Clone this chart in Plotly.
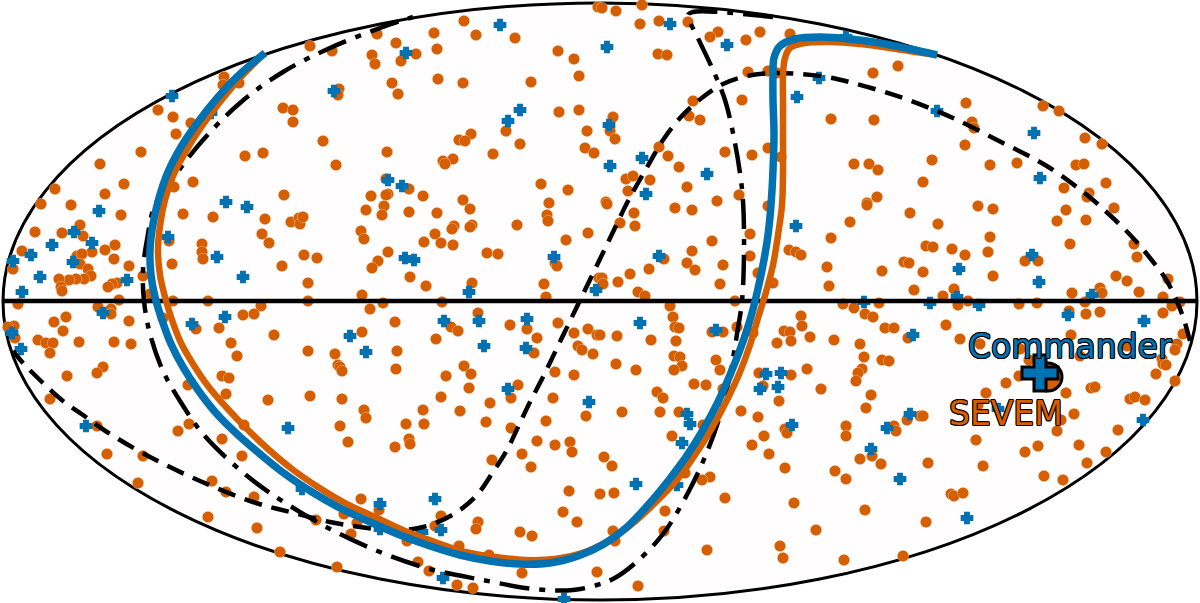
import plotly.graph_objects as go

# SEVEM sources, sky-map plane coordinates
sevem_x = [224,223,239,158,173,191,176,283,293,293,141,263,245,100,124,193,174,55,105,284,
 310,332,377,396,372,375,401,416,434,437,464,476,515,558,574,579,438,463,531,392,398,339,338,559,579,506,587,471,459,465,520,585,594,323,387,493,453,443,445,336,541,568,386,409,388,386,371,423,463,549,598,
 602,616,642,640,659,688,718,710,746,760,790,658,667,748,768,777,873,898,693,742,613,689,700,831,874,610,615,659,668,725,752,768,781,679,854,869,878,626,633,650,628,687,739,606,717,877,867,
 966,1043,1059,972,974,965,1085,1102,932,990,1017,1076,1084,923,1064,1106,1089,1087,
 41,71,121,183,213,265,291,299,300,80,35,62,83,262,269,115,169,202,202,105,92,22,203,77,82,114,80,129,172,282,13,88,91,84,76,69,59,61,62,117,112,108,143,150,119,173,208,18,261,98,111,111,254,243,66,163,54,129,14,8,196,219,63,15,274,38,46,53,79,114,131,231,50,237,103,97,222,229,67,188,226,268,50,
 303,366,384,382,409,437,470,547,548,517,454,452,472,470,361,364,435,588,566,424,441,453,388,487,498,304,317,378,372,555,557,410,308,426,472,544,599,362,546,308,383,442,370,478,395,558,510,527,451,458,362,574,588,597,537,436,578,582,593,308,335,397,534,338,340,342,396,464,471,446,555,574,518,469,310,342,441,511,553,490,
 607,675,692,768,867,634,850,620,635,750,831,712,692,789,796,801,750,664,687,723,649,695,827,882,630,758,602,603,618,720,773,829,638,645,735,670,843,854,879,865,873,801,673,737,802,675,679,712,723,885,894,784,790,600,617,753,651,676,810,791,834,777,860,674,680,864,716,882,889,616,682,636,674,720,807,862,858,759,791,856,694,706,763,821,657,663,871,779,723,
 910,978,993,1066,1114,1057,1086,938,990,1070,1134,926,933,952,988,965,1137,904,909,1025,1038,923,993,1116,1127,1168,914,954,1072,1100,1102,1139,943,1163,968,958,1019,1037,1085,1180,1172,1069,1086,1100,1163,946,1071,1183,908,960,1177,1175,1020,980,1127,1080,1029,1162,1163,1166,1019,1156,1006,1175,1091,1095,1066,986,1130,1135,1145,
 97,189,178,244,222,107,143,242,212,138,226,254,208,257,280,
 364,366,340,423,406,424,460,486,511,546,586,348,409,410,395,537,555,570,572,522,492,531,569,600,563,577,361,379,344,441,478,476,435,316,357,520,532,351,407,459,489,418,429,337,522,597,457,473,
 866,622,660,679,741,758,703,846,846,785,787,764,894,896,672,752,769,604,612,860,872,881,785,835,846,685,710,702,614,725,665,794,865,816,613,664,615,707,780,783,844,638,
 907,920,923,978,1061,1074,1057,1118,976,1079,1038,1025,1106,928,1087,983,1044,1063,951,954,963,926,903]
sevem_y = [77,85,83,110,117,123,134,108,110,122,152,153,156,164,184,182,187,189,194,195,
 46,51,34,43,55,64,61,54,33,49,21,35,38,51,59,76,79,83,82,83,94,89,95,112,110,131,131,134,140,141,144,148,153,141,152,154,159,161,164,165,184,190,179,189,194,195,196,196,200,203,7,
 8,11,5,24,21,22,32,37,40,32,34,54,55,72,71,73,73,66,101,100,117,116,120,119,120,131,139,147,156,152,155,148,157,167,164,164,170,179,176,180,191,187,195,202,201,197,203,
 103,106,111,122,128,145,138,144,160,165,163,165,164,182,188,183,193,197,
 204,205,215,214,217,219,222,218,224,225,232,233,236,234,243,245,241,244,252,250,252,251,259,256,254,259,264,266,264,266,269,269,276,279,279,280,279,287,291,283,284,287,276,294,300,301,301,304,306,307,309,314,314,315,317,318,322,321,326,327,329,328,331,338,335,340,343,343,342,342,344,343,353,356,367,373,376,378,376,385,394,400,399,
 217,210,206,215,212,213,209,215,221,225,226,229,225,227,231,239,234,233,240,242,243,245,252,253,254,255,258,261,268,263,266,277,283,286,283,284,278,295,297,301,303,302,309,313,322,323,325,329,327,331,332,333,329,335,338,339,346,350,354,351,354,351,353,365,367,371,369,366,374,376,372,375,385,388,396,399,397,398,398,403,
 204,208,210,206,205,213,222,223,226,234,238,241,251,250,252,255,256,259,263,265,269,270,267,271,274,273,278,284,282,284,283,286,292,296,301,306,304,308,303,314,317,316,317,327,326,327,328,332,332,328,328,331,332,335,336,333,340,341,337,341,340,343,344,356,357,357,360,360,361,364,366,370,370,370,369,369,373,373,375,381,384,385,386,389,392,398,395,401,389,
 213,206,209,210,208,221,220,224,237,244,244,246,247,249,252,255,257,262,263,261,261,272,276,276,281,279,290,289,293,288,293,292,296,297,301,305,304,303,302,302,306,311,314,312,313,325,335,334,338,339,344,350,349,344,346,356,360,359,364,365,376,374,383,381,388,387,393,393,399,397,400,
 426,424,431,425,439,454,456,456,481,483,492,497,517,528,552,
 410,418,426,410,424,424,411,422,428,421,416,442,439,444,447,441,445,442,452,454,460,467,491,494,512,522,499,510,514,516,522,529,526,520,523,532,536,534,541,546,555,562,571,567,573,572,585,588,
 408,412,412,412,411,417,425,426,436,429,433,436,426,431,436,445,454,457,466,459,456,464,468,471,479,473,477,480,493,498,511,503,510,530,531,531,541,550,546,558,560,586,
 420,416,416,405,420,414,431,430,440,445,446,452,452,463,463,466,476,480,494,496,493,522,556]

# Commander sources
commander_x = [172,211,226,500,406,334,520,508,388,402,670,607,727,846,819,797,609,642,610,707,646,937,1034,1040,
 99,247,74,168,92,52,31,217,13,73,40,127,243,22,103,225,192,12,21,
 405,414,554,469,596,444,479,527,350,366,484,526,508,589,
 659,640,716,864,766,781,778,760,796,
 1032,959,1039,1092,957,930,979,1068,1144,913,
 86,288,302,435,380,441,422,443,564,380,
 687,690,792,887,682,871,636,677,900,910,998,1143,967]
commander_y = [96,113,202,25,53,91,110,121,180,186,24,47,45,37,78,97,125,158,166,174,194,111,133,178,
 211,207,232,237,243,245,255,257,261,262,277,280,277,292,313,317,324,333,349,
 258,260,257,292,290,321,321,319,336,352,346,348,389,402,
 256,323,330,302,374,373,387,389,226,
 255,269,282,295,297,303,305,315,321,335,
 426,428,489,499,504,530,532,578,599,529,
 414,424,425,428,443,449,484,485,479,414,409,420,518]

# Curves
commander_curve_x = [265,240,218,198,181,168,159,153,150,151,155,162,171,183,198,216,237,260,285,312,340,370,400,430,460,490,520,550,578,604,627,648,668,686,703,718,730,741,750,757,763,768,771,773,774,773,773,774,780,795,820,850,880,910,937]
commander_curve_y = [53,74,97,122,147,172,198,224,250,275,297,320,344,367,390,413,434,454,474,492,508,522,535,546,555,561,564,563,556,544,527,505,481,457,430,402,375,347,320,293,265,235,205,170,133,100,75,58,46,39,37,39,43,49,55]
sevem_curve_x = [265,240,220,202,186,173,165,160,158,160,165,172,181,193,208,226,246,268,292,318,345,375,405,435,465,495,525,555,582,608,632,655,677,695,712,727,740,750,758,766,773,778,782,783,783,783,783,785,790,805,830,860,890,915,937]
sevem_curve_y = [53,78,102,126,151,176,200,226,250,275,297,320,343,364,386,407,428,449,469,487,503,517,531,542,552,557,560,559,553,541,524,503,480,455,428,400,372,345,318,292,265,235,205,170,133,100,75,58,48,43,42,44,48,52,55]
dashed_x = [1190,1182,1167,1150,1133,1113,1087,1050,1027,1003,953,903,853,827,800,773,747,723,703,680,663,650,638,627,613,599,585,571,557,543,530,519,507,493,477,457,433,413,387,360,330,290,253,200,150,107,83,63,43,23,13]
dashed_y = [341,314,281,258,238,218,195,168,155,143,118,98,83,77,74,73,76,84,97,118,140,162,183,203,232,261,290,319,348,377,402,425,450,472,495,512,524,529,530,527,522,512,502,481,457,432,415,401,383,363,351]
dashdot_x = [773,743,720,693,688,698,713,725,733,740,743,744,742,737,732,726,718,707,690,663,633,613,597,573,533,483,430,380,330,273,240,203,180,163,150,144,143,147,155,177,203,240,283,330,380,413]
dashdot_y = [17,14,12,12,15,38,70,100,133,173,201,251,301,334,364,393,422,452,489,534,565,579,585,590,589,580,569,552,529,495,470,434,401,371,334,301,270,240,205,173,140,103,72,48,28,17]
equator_x = [3,1197]
equator_y = [301,301]

# Mean locations of the two estimates
mean_commander = (1040,373)
mean_sevem = (1048,377)
labels = ["Commander","SEVEM"]
label_x = [966,947]
label_y = [346,413]

BLUE = "#0072B2"
ORANGE = "#D55E00"
OUTLINE = ",".join(f"{a}px {b}px 0 #000" for a,b in [(1,0),(-1,0),(0,1),(0,-1),(.7,.7),(-.7,.7),(.7,-.7),(-.7,-.7)])

fig = go.Figure()
fig.add_shape(type="circle",x0=3,x1=1197,y0=3,y1=600,line=dict(color="black",width=3),fillcolor="#fffdfd",layer="below")
fig.add_trace(go.Scatter(x=sevem_x,y=sevem_y,mode="markers",marker=dict(color=ORANGE,size=11.5,symbol="circle",line=dict(width=0.5,color="rgba(255,255,255,0.6)"))))
fig.add_trace(go.Scatter(x=commander_x,y=commander_y,mode="markers",marker=dict(color=BLUE,size=8.5,symbol="cross",line=dict(width=2.5,color=BLUE))))
fig.add_trace(go.Scatter(x=equator_x,y=equator_y,mode="lines",line=dict(color="black",width=4.5)))
fig.add_trace(go.Scatter(x=dashed_x,y=dashed_y,mode="lines",line=dict(color="black",width=4.5,shape="spline",dash="18px,10px")))
fig.add_trace(go.Scatter(x=dashdot_x,y=dashdot_y,mode="lines",line=dict(color="black",width=4.5,shape="spline",dash="30px,10px,6px,10px")))
fig.add_trace(go.Scatter(x=sevem_curve_x,y=sevem_curve_y,mode="lines",line=dict(color=ORANGE,width=6.5,shape="spline")))
fig.add_trace(go.Scatter(x=commander_curve_x,y=commander_curve_y,mode="lines",line=dict(color=BLUE,width=7.5,shape="spline")))
fig.add_trace(go.Scatter(x=[mean_sevem[0]],y=[mean_sevem[1]],mode="markers",marker=dict(color=ORANGE,size=28,symbol="circle",line=dict(width=3,color="black"))))
fig.add_trace(go.Scatter(x=[mean_commander[0]],y=[mean_commander[1]],mode="markers",marker=dict(color=BLUE,size=30,symbol="cross",line=dict(width=3,color="black"))))
for t,x,y,c in zip(labels,label_x,label_y,[BLUE,ORANGE]):
    fig.add_annotation(x=x,y=y,text=t,showarrow=False,xanchor="left",yanchor="middle",
        font=dict(family="DejaVu Sans",size=33,color=c,shadow=OUTLINE))
fig.update_layout(width=1200,height=603,margin=dict(l=0,r=0,t=0,b=0),showlegend=False,
    paper_bgcolor="white",plot_bgcolor="white",
    xaxis=dict(range=[0,1200],visible=False,fixedrange=True),
    yaxis=dict(range=[603,0],visible=False,fixedrange=True))
fig.write_html("out.html",config=dict(displayModeBar=False),post_script="document.body.style.margin='0';document.documentElement.style.overflow='hidden';")
